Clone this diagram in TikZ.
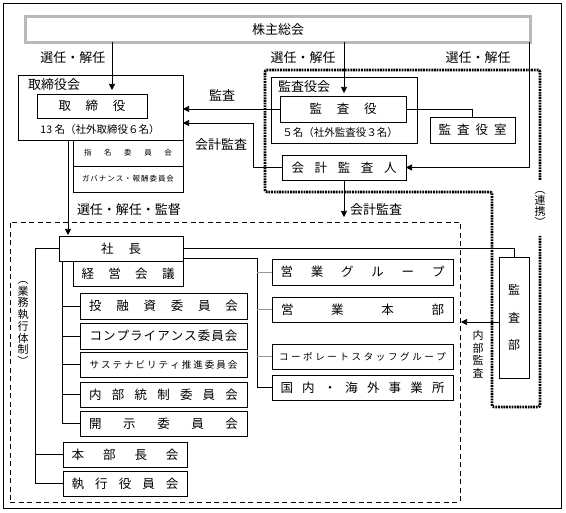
\documentclass[tikz,border=0pt]{standalone}
\usepackage{fontspec}
\setmainfont{Noto Sans CJK JP}
\usetikzlibrary{arrows.meta,calc}
\makeatletter
\newcommand\spreadtext[2]{\makebox[#1][s]{\spr@#2\@nil}}
\def\spr@#1#2\@nil{#1\ifx\relax#2\relax\else\hfill\spr@#2\@nil\fi}
\makeatother
\begin{document}
\begin{tikzpicture}[x=1pt,y=-1pt,
  box/.style={draw, line width=0.7pt, inner sep=0pt, outer sep=0pt, anchor=north west},
  lbl/.style={inner sep=0pt, font=\fontsize{13}{15}\selectfont},
  bt/.style={font=\fontsize{12.5}{14}\selectfont},
  st/.style={font=\fontsize{9.5}{11}\selectfont},
  tt/.style={font=\fontsize{7.5}{9}\selectfont},
  vt/.style={inner sep=0pt, align=center},
  ln/.style={line width=0.7pt},
  stub/.style={line width=0.7pt, gray!80},
  arr/.style={line width=0.7pt, -{Triangle[length=6pt,width=6pt]}},
  dots/.style={line width=2.6pt, dash pattern=on 1.8pt off 0.9pt},
]
\useasboundingbox (0,0) rectangle (566,513);
\node[box, minimum width=558pt, minimum height=505pt] (frame) at (3,3) {};

% top
\node[draw, line width=0.6pt, double=gray!55, double distance=2.6pt, inner sep=0pt, outer sep=0pt,
      minimum width=505pt, minimum height=26pt, anchor=north west, lbl] (gm) at (25.5,16.5) {株主総会};

% board
\node[box, minimum width=165pt, minimum height=65pt] (torikai) at (18,75) {};
\node[lbl, anchor=west] (torikailbl) at (28,85) {取締役会};
\node[box, bt, minimum width=110pt, minimum height=24pt] (tr) at (37,94) {\spreadtext{67pt}{取締役}};
\node[inner sep=0pt, font=\fontsize{10.5}{12}\selectfont] (trn) at (100,130) {13 名（社外取締役６名）};
\node[box, tt, minimum width=110pt, minimum height=26pt] (shimei) at (73,140) {\spreadtext{88pt}{指名委員会}};
\node[box, tt, minimum width=110pt, minimum height=26pt] (gov) at (73,166) {\spreadtext{92pt}{ガバナンス・報酬委員会}};

% audit
\node[box, minimum width=146pt, minimum height=66pt] (kakai) at (271,77) {};
\node[lbl, anchor=west] (kakailbl) at (278,87) {監査役会};
\node[box, bt, minimum width=126pt, minimum height=26pt] (ka) at (280,96) {\spreadtext{67pt}{監査役}};
\node[inner sep=0pt, font=\fontsize{10.5}{12}\selectfont] (kan) at (340,133) {５名（社外監査役３名）};
\node[box, bt, minimum width=85pt, minimum height=26pt] (kas) at (430,117) {\spreadtext{68pt}{監査役室}};
\node[box, bt, minimum width=124pt, minimum height=25pt] (kk) at (282,155) {\spreadtext{105pt}{会計監査人}};

% execution
\node[draw, line width=0.7pt, dash pattern=on 5pt off 3.5pt, inner sep=0pt, outer sep=0pt,
      anchor=north west, minimum width=450pt, minimum height=280pt] (exec) at (10,222) {};
\node[box, bt, minimum width=124pt, minimum height=25pt] (shacho) at (59,236) {\spreadtext{40pt}{社長}};
\node[box, bt, minimum width=110pt, minimum height=25pt] (keiei) at (73,261) {\spreadtext{93pt}{経営会議}};
\node[box, bt, minimum width=167pt, minimum height=26pt] (toyu) at (80,293) {\spreadtext{149pt}{投融資委員会}};
\node[box, bt, minimum width=167pt, minimum height=26pt] (comp) at (80,323) {\spreadtext{148pt}{コンプライアンス委員会}};
\node[box, st, minimum width=167pt, minimum height=25pt] (sus) at (80,352) {\spreadtext{148pt}{サステナビリティ推進委員会}};
\node[box, bt, minimum width=167pt, minimum height=25pt] (naibu) at (80,382) {\spreadtext{149pt}{内部統制委員会}};
\node[box, bt, minimum width=167pt, minimum height=25pt] (kaiji) at (80,411) {\spreadtext{149pt}{開示委員会}};
\node[box, bt, minimum width=124pt, minimum height=25pt] (honbu) at (63,442) {\spreadtext{107pt}{本部長会}};
\node[box, bt, minimum width=124pt, minimum height=25pt] (shikko) at (63,471) {\spreadtext{107pt}{執行役員会}};

\node[box, bt, minimum width=181pt, minimum height=26pt] (eg) at (272,259) {\spreadtext{164pt}{営業グループ}};
\node[box, bt, minimum width=181pt, minimum height=25pt] (eh) at (272,297) {\spreadtext{163pt}{営業本部}};
\node[box, st, minimum width=181pt, minimum height=25pt] (cs) at (272,344) {\spreadtext{167pt}{コーポレートスタッフグループ}};
\node[box, bt, minimum width=181pt, minimum height=25pt] (kn) at (272,375) {\spreadtext{164pt}{国内・海外事業所}};

\node[box, vt, minimum width=30pt, minimum height=121pt, font=\fontsize{12}{27.5}\selectfont] (kbu) at (499,257) {監\\査\\部};

% vertical labels
\node[vt, font=\fontsize{11}{11.7}\selectfont] (gyomu) at (23,323.5) {︵\\業\\務\\執\\行\\体\\制\\︶};
\node[vt, font=\fontsize{11}{11}\selectfont] (renkei) at (540,208.5) {︵\\連\\携\\︶};
\node[vt, font=\fontsize{11}{12.5}\selectfont] (naikan) at (478,354) {内\\部\\監\\査};

% labels
\node[lbl] (l1) at (73,58) {選任・解任};
\node[lbl] (l2) at (303,58) {選任・解任};
\node[lbl] (l3) at (478,58) {選任・解任};
\node[lbl] (l4) at (222,95) {監査};
\node[lbl] (l5) at (221,145) {会計監査};
\node[lbl] (l6) at (129,210) {選任・解任・監督};
\node[lbl] (l7) at (376,210) {会計監査};

% connectors
\coordinate (a1) at (112,90);
\draw[arr] (gm.south -| a1) -- (a1);
\coordinate (a2) at (344,93);
\draw[arr] (gm.south -| a2) -- (a2);
\coordinate (a3) at (529,0);
\draw[arr] (gm.south -| a3) |- (kk.east);
\draw[arr] (ka.west) -- (torikai.east |- ka.west);
\coordinate (c1) at (253,123);
\draw[arr] (kk.west) -| (c1) -- (torikai.east |- c1);
\draw[ln] (ka.east) -| (kas.north);
\draw[arr, shorten >=5pt] (kk.south) -- (kk.south |- exec.north);
\coordinate (a4) at (68,0);
\draw[arr, shorten >=1pt] (torikai.south -| a4) -- (shacho.north -| a4);
\draw[ln] (shacho.east) -| (kbu.north);
\coordinate (v1) at (257,258);
\draw[ln] (shacho.east |- v1) -- (v1) |- (kn.west);
\draw[stub] (v1 |- eg.west) -- (eg.west);
\draw[stub] (v1 |- eh.west) -- (eh.west);
\draw[stub] (v1 |- cs.west) -- (cs.west);
\coordinate (v2) at (35,0);
\draw[ln] (shacho.west) -| (v2 |- shikko.west) -- (shikko.west);
\draw[ln] (v2 |- honbu.west) -- (honbu.west);
\coordinate (v3) at (62,0);
\draw[ln] (shacho.south -| v3) |- (kaiji.west);
\draw[ln] (v3 |- toyu.west) -- (toyu.west);
\draw[ln] (v3 |- comp.west) -- (comp.west);
\draw[ln] (v3 |- sus.west) -- (sus.west);
\draw[ln] (v3 |- naibu.west) -- (naibu.west);
\coordinate (a5) at (0,322);
\draw[arr, shorten >=1pt] (kbu.west |- a5) -- (exec.east |- a5);

% dotted cooperation frame
\draw[dots, rounded corners=2pt] (540,180) -- (540,70) -- (265,70) -- (265,192) -- (492,192) -- (492,407) -- (540,407) -- (540,236);
\end{tikzpicture}
\end{document}
